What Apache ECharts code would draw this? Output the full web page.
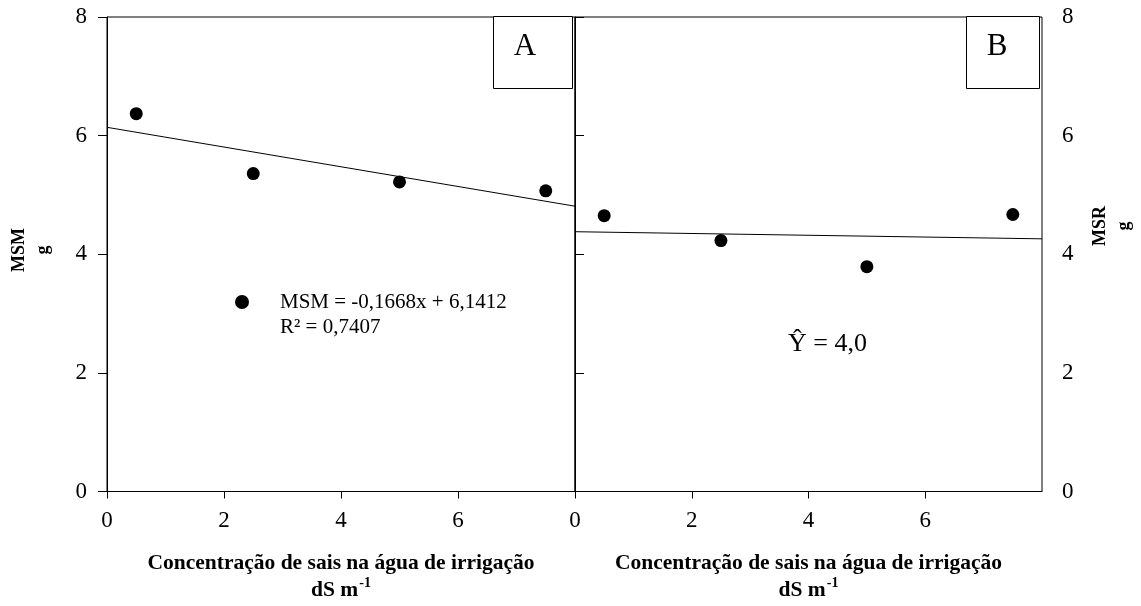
<!DOCTYPE html>
<html>
<head>
<meta charset="utf-8">
<script src="https://cdn.jsdelivr.net/npm/echarts@6/dist/echarts.min.js"></script>
<style>
html,body{margin:0;padding:0;background:#fff;}
#chart{width:1141px;height:606px;}
</style>
</head>
<body>
<div id="chart"></div>
<script>
// ---- data ----
var xValues = [0.5, 2.5, 5, 7.5];
var msmValues = [6.37, 5.36, 5.22, 5.07];
var msrValues = [4.65, 4.23, 3.79, 4.67];
var fitAx = [0, 8];
var fitAy = [6.14, 4.81];
var fitBx = [0, 8];
var fitBy = [4.38, 4.26];
var xTicks = [0, 2, 4, 6];
var yTicks = [0, 2, 4, 6, 8];
var xTitle = 'Concentração de sais na água de irrigação';
var eqA = 'MSM = -0,1668x + 6,1412';
var r2A = 'R² = 0,7407';
var eqB = 'Ŷ = 4,0';

var FONT = 'Liberation Serif';

function pairs(xs, ys){ return xs.map(function(x,i){return [x, ys[i]];}); }

var chart = echarts.init(document.getElementById('chart'), null, {renderer:'canvas'});

function xAxisCfg(gi){
  return {
    type:'value', gridIndex:gi, min:0, max:8, interval:2,
    axisLine:{show:true, lineStyle:{color:'#000', width:1}},
    axisTick:{show:true, inside:false, length:7, lineStyle:{color:'#000'}, customValues:xTicks},
    axisLabel:{show:true, margin:18, color:'#000', fontFamily:FONT, fontSize:23, customValues:xTicks},
    splitLine:{show:false},
    name:'{t|' + xTitle + '}\n{u|dS m}{s|-1}',
    nameLocation:'middle', nameGap:58,
    nameTextStyle:{
      rich:{
        t:{fontFamily:FONT, fontWeight:'bold', fontSize:21.5, lineHeight:27, color:'#000'},
        u:{fontFamily:FONT, fontWeight:'bold', fontSize:21.5, lineHeight:27, color:'#000'},
        s:{fontFamily:FONT, fontWeight:'bold', fontSize:14, lineHeight:27, color:'#000', verticalAlign:'top', padding:[0,0,0,1]}
      }
    }
  };
}
function yAxisCfg(gi, pos){
  return {
    type:'value', gridIndex:gi, min:0, max:8, interval:2, position:pos,
    axisLine:{show:true, lineStyle:{color:'#000', width:1}},
    axisTick:{show:true, inside:false, length:9, lineStyle:{color:'#000'}},
    axisLabel:{show:true, margin:20, color:'#000', fontFamily:FONT, fontSize:23},
    splitLine:{show:false}
  };
}

var option = {
  backgroundColor:'#fff',
  animation:false,
  grid:[
    {left:107, right:566, top:17, bottom:114, show:true, borderColor:'#000', borderWidth:1, backgroundColor:'transparent'},
    {left:575, right:99, top:17, bottom:114, show:true, borderColor:'#000', borderWidth:1, backgroundColor:'transparent'}
  ],
  xAxis:[xAxisCfg(0), xAxisCfg(1)],
  yAxis:[yAxisCfg(0,'left'), yAxisCfg(1,'right')],
  series:[
    {type:'line', xAxisIndex:0, yAxisIndex:0, data:pairs(fitAx, fitAy), symbol:'none',
     lineStyle:{color:'#000', width:1}, z:2},
    {type:'scatter', xAxisIndex:0, yAxisIndex:0, data:pairs(xValues, msmValues), symbol:'circle',
     symbolSize:13, itemStyle:{color:'#000', opacity:1}, z:3},
    {type:'line', xAxisIndex:1, yAxisIndex:1, data:pairs(fitBx, fitBy), symbol:'none',
     lineStyle:{color:'#000', width:1}, z:2},
    {type:'scatter', xAxisIndex:1, yAxisIndex:1, data:pairs(xValues, msrValues), symbol:'circle',
     symbolSize:13, itemStyle:{color:'#000', opacity:1}, z:3}
  ],
  graphic:[
    // panel tags
    {type:'rect', left:493, top:16, shape:{width:79, height:72}, style:{fill:'#fff', stroke:'#000', lineWidth:1}, z:10},
    {type:'text', x:525, y:47, style:{text:'A', font:'31px ' + FONT, fill:'#000', textAlign:'center', textVerticalAlign:'middle'}, z:11},
    {type:'rect', left:966, top:16, shape:{width:73, height:72}, style:{fill:'#fff', stroke:'#000', lineWidth:1}, z:10},
    {type:'text', x:997, y:47, style:{text:'B', font:'31px ' + FONT, fill:'#000', textAlign:'center', textVerticalAlign:'middle'}, z:11},
    // legend / equations
    {type:'circle', shape:{cx:242, cy:302, r:7}, style:{fill:'#000'}, z:10},
    {type:'text', x:280, y:302, style:{text:eqA, font:'21px ' + FONT, fill:'#000', textAlign:'left', textVerticalAlign:'middle'}, z:10},
    {type:'text', x:280, y:327, style:{text:r2A, font:'21px ' + FONT, fill:'#000', textAlign:'left', textVerticalAlign:'middle'}, z:10},
    {type:'text', x:788, y:344, style:{text:eqB, font:'26px ' + FONT, fill:'#000', textAlign:'left', textVerticalAlign:'middle'}, z:10},
    // y-axis titles
    {type:'text', x:31, y:250, rotation:Math.PI/2,
     style:{text:'MSM\ng', font:'bold 18px ' + FONT, lineHeight:24, fill:'#000', textAlign:'center', textVerticalAlign:'middle'}, z:10},
    {type:'text', x:1112, y:226, rotation:Math.PI/2,
     style:{text:'MSR\ng', font:'bold 18px ' + FONT, lineHeight:24, fill:'#000', textAlign:'center', textVerticalAlign:'middle'}, z:10}
  ]
};
chart.setOption(option);
</script>
</body>
</html>
